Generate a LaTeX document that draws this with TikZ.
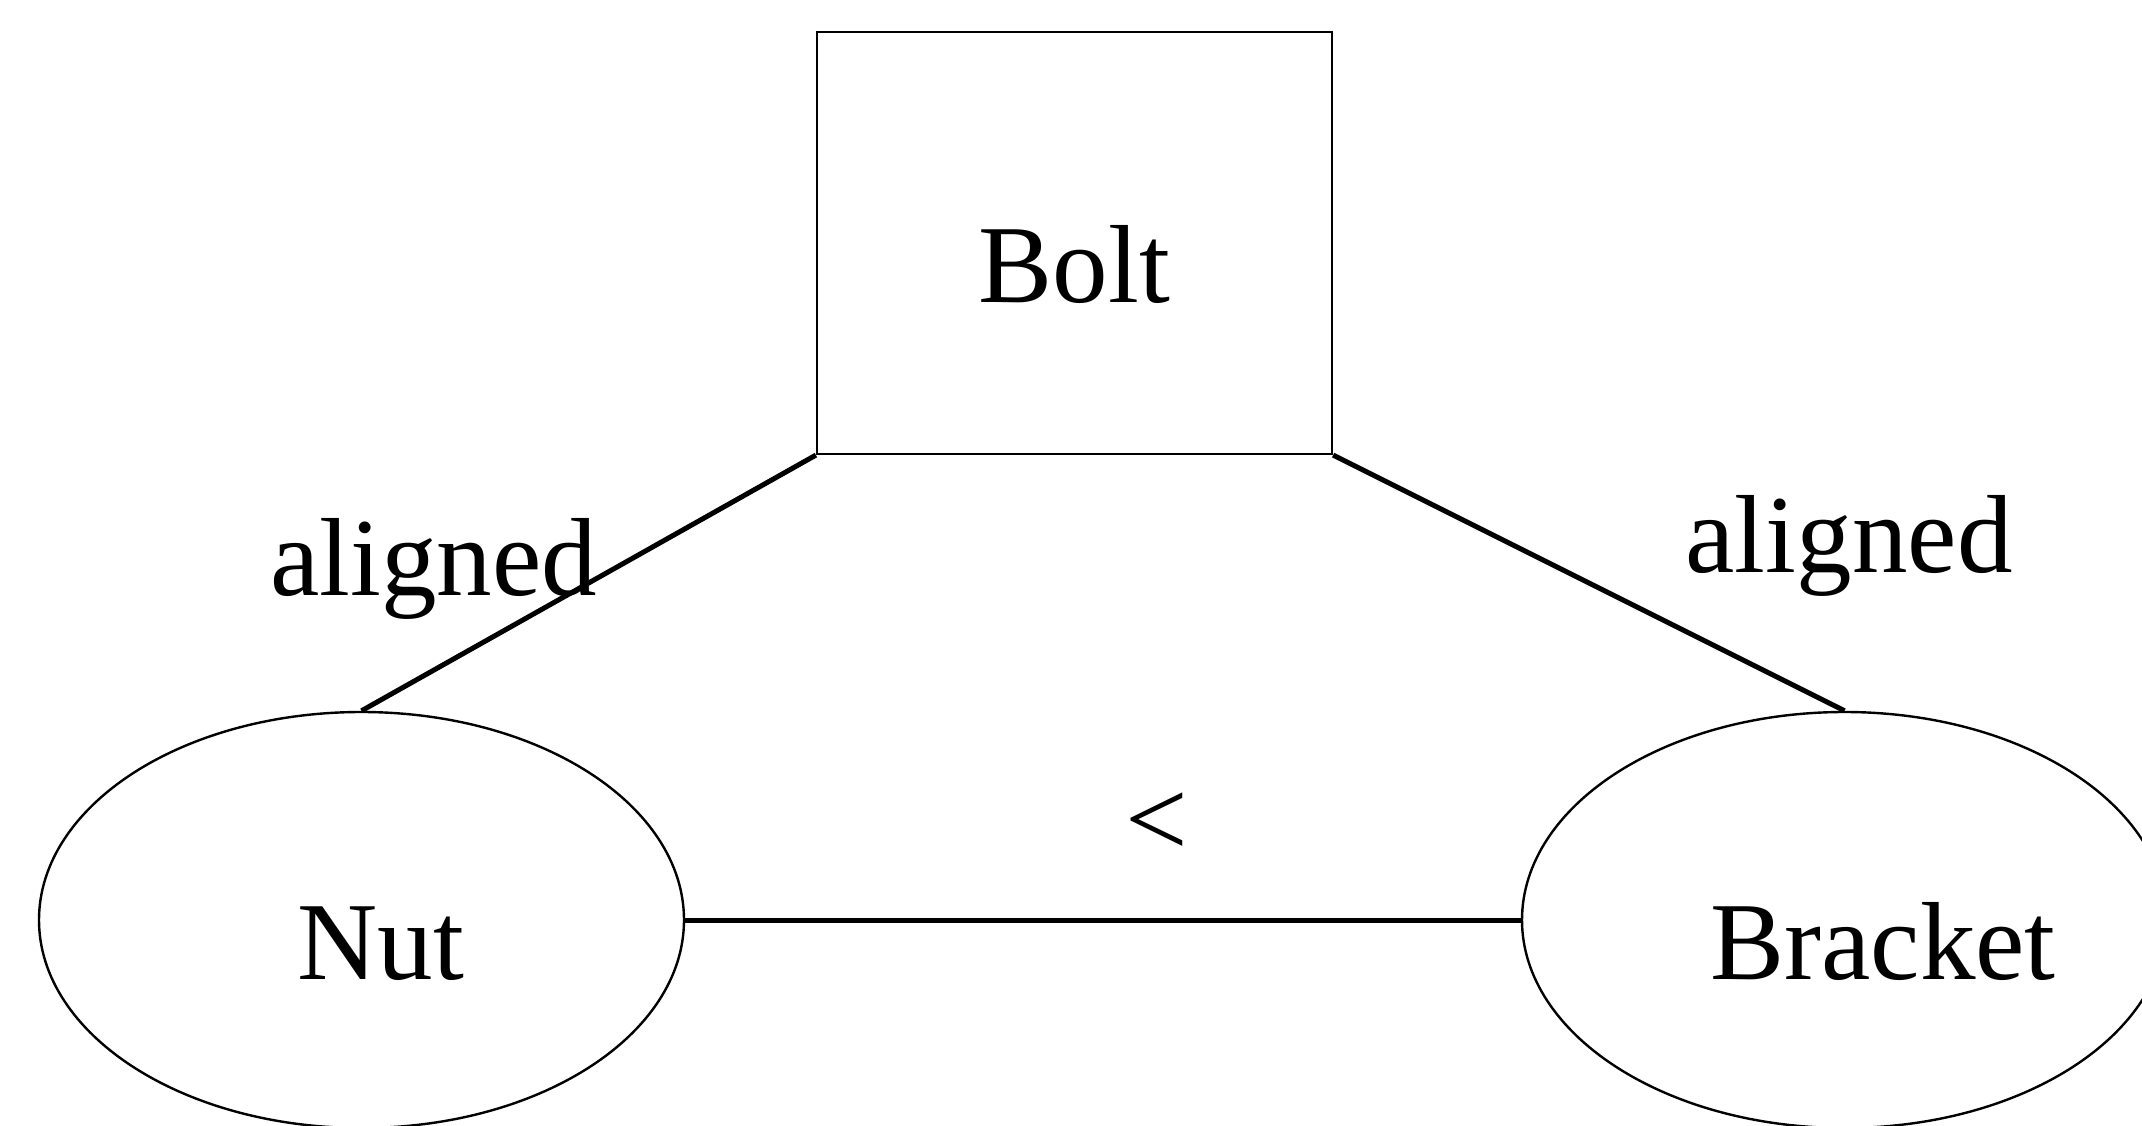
\documentclass[tikz,border=0pt]{standalone}
\usepackage{fontspec}
\setmainfont{Liberation Serif}
\usetikzlibrary{shapes.geometric}
\begin{document}
\begin{tikzpicture}[
    part/.style={draw, line width=0.022cm, rectangle, minimum width=5.15cm, minimum height=4.22cm, text height=1.20cm, text depth=0pt},
    item/.style={draw, line width=0.024cm, ellipse, minimum width=6.45cm, minimum height=4.16cm, inner sep=0pt, text height=1.18cm, text depth=0pt},
    link/.style={line width=0.050cm},
    tag/.style={anchor=base, inner sep=0pt}
  ]
                        \clip (0,0) rectangle (21.42,11.25);
                        {\fontsize{31.6}{38}\selectfont

                        % Drawing part Bolt
                        \node [part] (bolt) at (10.745,8.820) {Bolt};

                        % Drawing item Nut
                        \node [item] (nut) at (3.615,2.050) {\hspace*{0.39cm}Nut};

                        % Drawing item Bracket
                        \node [item] (bracket) at (18.445,2.050) {\hspace*{0.77cm}Bracket};

                        % Drawing link Bolt Nut
                        \draw [link] (bolt.south west) -- (nut.north);
                        \node [tag] (tagnut) at (4.335,5.300) {aligned};

                        % Drawing link Bolt Bracket
                        \draw [link] (bolt.south east) -- (bracket.north);
                        \node [tag] (tagbracket) at (18.490,5.530) {aligned};

                        % Drawing link Nut Bracket
                        \draw [link] (nut.east) -- (bracket.west);
                        \node [inner sep=0pt] (order) at (11.570,3.000) {<};
                        }
                    \end{tikzpicture}
\end{document}
